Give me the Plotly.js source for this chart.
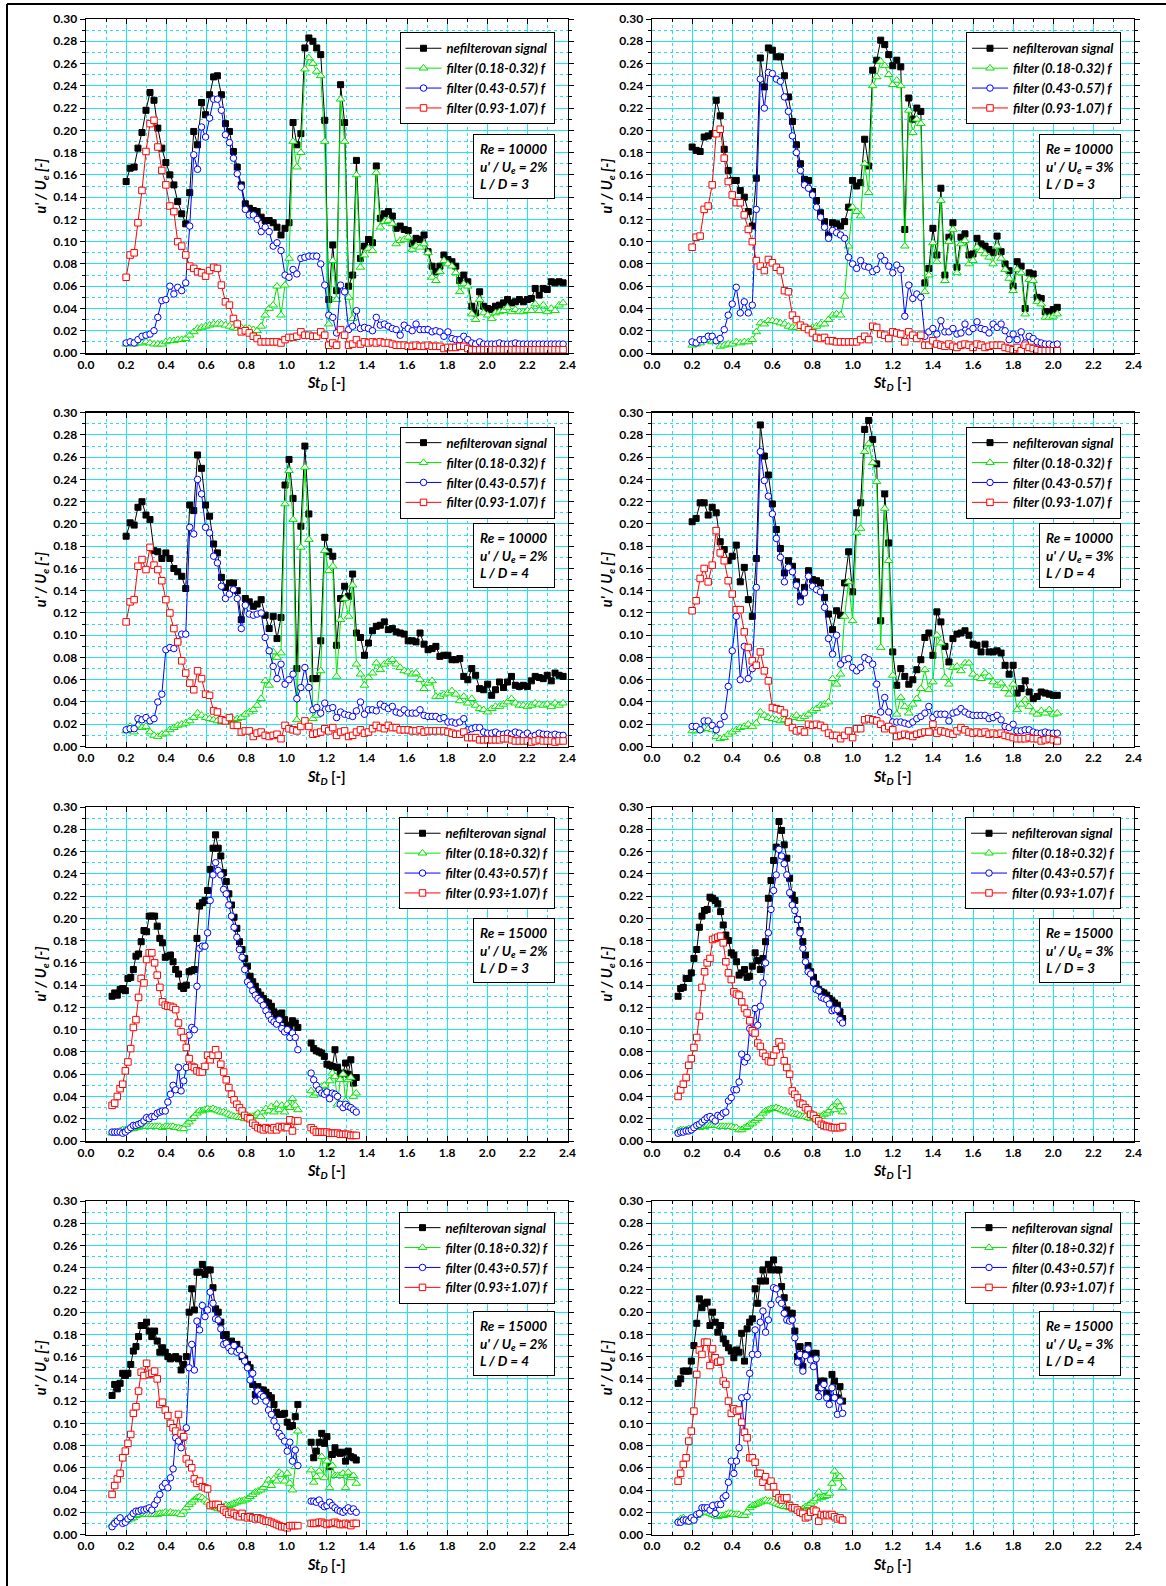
<!DOCTYPE html>
<html><head><meta charset="utf-8">
<script src="https://cdn.plot.ly/plotly-3.0.1.min.js"></script>
<style>html,body{margin:0;padding:0;background:#fff;} #chart{width:1166px;height:1586px;}</style>
</head><body><div id="chart"></div>
<script>
// ---------- x values (St_D) ----------
const stA = [0.200,0.220,0.240,0.259,0.279,0.299,0.319,0.339,0.358,0.378,
0.398,0.418,0.438,0.457,0.477,0.497,0.517,0.537,0.556,0.576,
0.596,0.616,0.636,0.655,0.675,0.695,0.715,0.735,0.754,0.774,
0.794,0.814,0.834,0.853,0.873,0.893,0.913,0.933,0.952,0.972,
0.992,1.012,1.032,1.051,1.071,1.091,1.111,1.131,1.150,1.170,
1.190,1.210,1.230,1.249,1.269,1.289,1.309,1.329,1.348,1.368,
1.388,1.408,1.428,1.447,1.467,1.487,1.507,1.527,1.546,1.566,
1.586,1.606,1.626,1.645,1.665,1.685,1.705,1.725,1.744,1.764,
1.784,1.804,1.824,1.843,1.863,1.883,1.903,1.923,1.942,1.962,
1.982,2.002,2.022,2.041,2.061,2.081,2.101,2.121,2.140,2.160,
2.180,2.200,2.220,2.239,2.259,2.279,2.299,2.319,2.338,2.358,
2.378];
const stB = [0.20,0.22,0.24,0.26,0.28,0.30,0.32,0.34,0.36,0.38,
0.40,0.42,0.44,0.46,0.48,0.50,0.52,0.54,0.56,0.58,
0.60,0.62,0.64,0.66,0.68,0.70,0.72,0.74,0.76,0.78,
0.80,0.82,0.84,0.86,0.88,0.90,0.92,0.94,0.96,0.98,
1.00,1.02,1.04,1.06,1.08,1.10,1.12,1.14,1.16,1.18,
1.20,1.22,1.24,1.26,1.28,1.30,1.32,1.34,1.36,1.38,
1.40,1.42,1.44,1.46,1.48,1.50,1.52,1.54,1.56,1.58,
1.60,1.62,1.64,1.66,1.68,1.70,1.72,1.74,1.76,1.78,
1.80,1.82,1.84,1.86,1.88,1.90,1.92,1.94,1.96,1.98,
2.00,2.02];
const stC = [0.130,0.143,0.156,0.170,0.183,0.196,0.209,0.223,0.236,0.249,
0.262,0.275,0.289,0.302,0.315,0.328,0.342,0.355,0.368,0.381,
0.395,0.408,0.421,0.434,0.447,0.461,0.474,0.487,0.500,0.514,
0.527,0.540,0.553,0.566,0.580,0.593,0.606,0.619,0.633,0.646,
0.659,0.672,0.686,0.699,0.712,0.725,0.738,0.752,0.765,0.778,
0.791,0.805,0.818,0.831,0.844,0.857,0.871,0.884,0.897,0.910,
0.924,0.937,0.950,0.963,0.976,0.990,1.003,1.016,1.029,1.043,
1.056,1.069,1.082,1.096,1.109,1.122,1.135,1.148,1.162,1.175,
1.188,1.201,1.214,1.228,1.241,1.254,1.267,1.281,1.294,1.307,
1.320,1.333,1.347];
const stD = [0.130,0.143,0.156,0.170,0.183,0.196,0.209,0.223,0.236,0.249,
0.262,0.275,0.289,0.302,0.315,0.328,0.342,0.355,0.368,0.381,
0.395,0.408,0.421,0.434,0.447,0.461,0.474,0.487,0.500,0.514,
0.527,0.540,0.553,0.566,0.580,0.593,0.606,0.619,0.633,0.646,
0.659,0.672,0.686,0.699,0.712,0.725,0.738,0.752,0.765,0.778,
0.791,0.805,0.818,0.831,0.844,0.857,0.871,0.884,0.897,0.910,
0.924,0.937,0.950];

// ---------- Panel 1: Re=10000, 2%, L/D=3 ----------
const p1Raw = [0.154,0.166,0.167,0.184,0.198,0.218,0.234,0.227,0.202,0.184,
0.171,0.160,0.151,0.136,0.125,0.116,0.144,0.199,0.187,0.225,
0.214,0.232,0.248,0.249,0.232,0.206,0.199,0.181,0.167,0.151,
0.134,0.130,0.128,0.127,0.122,0.119,0.119,0.117,0.113,0.106,
0.112,0.117,0.207,0.187,0.197,0.274,0.283,0.280,0.274,0.268,
0.209,0.048,0.097,0.056,0.241,0.207,0.060,0.070,0.173,0.085,
0.096,0.102,0.099,0.168,0.121,0.125,0.127,0.123,0.112,0.114,
0.111,0.110,0.098,0.103,0.102,0.106,0.091,0.078,0.073,0.078,
0.088,0.084,0.082,0.078,0.065,0.070,0.064,0.042,0.036,0.055,
0.042,0.040,0.039,0.042,0.043,0.045,0.048,0.045,0.046,0.048,
0.046,0.048,0.049,0.058,0.052,0.058,0.057,0.064,0.063,0.064,
0.063];
const p1F1 = [0.008,0.010,0.008,0.009,0.009,0.010,0.009,0.008,0.008,0.008,
0.010,0.011,0.011,0.012,0.012,0.013,0.016,0.019,0.022,0.023,
0.024,0.025,0.026,0.026,0.026,0.025,0.024,0.023,0.022,0.023,
0.022,0.022,0.021,0.020,0.024,0.034,0.040,0.043,0.060,0.034,
0.061,0.085,0.190,0.167,0.180,0.255,0.265,0.260,0.253,0.249,
0.190,0.026,0.083,0.048,0.228,0.190,0.050,0.031,0.160,0.077,
0.088,0.094,0.092,0.162,0.113,0.118,0.119,0.116,0.098,0.101,
0.102,0.104,0.093,0.096,0.095,0.098,0.090,0.068,0.065,0.073,
0.083,0.080,0.078,0.072,0.055,0.062,0.060,0.035,0.030,0.048,
0.036,0.034,0.031,0.036,0.037,0.038,0.041,0.037,0.039,0.037,
0.037,0.038,0.038,0.044,0.038,0.043,0.037,0.040,0.038,0.043,
0.045];
const p1F2 = [0.009,0.010,0.009,0.012,0.015,0.016,0.017,0.020,0.032,0.047,
0.048,0.060,0.053,0.059,0.056,0.063,0.114,0.178,0.165,0.203,
0.194,0.211,0.228,0.228,0.218,0.196,0.189,0.175,0.161,0.149,
0.129,0.124,0.124,0.120,0.109,0.113,0.109,0.096,0.099,0.092,
0.070,0.068,0.075,0.071,0.085,0.086,0.087,0.087,0.087,0.080,
0.061,0.034,0.032,0.018,0.061,0.055,0.021,0.024,0.038,0.022,
0.023,0.022,0.020,0.032,0.025,0.026,0.024,0.022,0.021,0.016,
0.025,0.022,0.020,0.026,0.021,0.021,0.021,0.019,0.020,0.019,
0.015,0.019,0.013,0.012,0.012,0.015,0.012,0.009,0.008,0.010,
0.008,0.008,0.008,0.008,0.009,0.008,0.008,0.008,0.009,0.008,
0.008,0.008,0.008,0.008,0.008,0.008,0.008,0.008,0.008,0.008,
0.008];
const p1F3 = [0.068,0.088,0.090,0.117,0.146,0.181,0.206,0.209,0.185,0.164,
0.151,0.132,0.127,0.100,0.096,0.088,0.078,0.076,0.073,0.072,
0.069,0.074,0.077,0.076,0.061,0.046,0.043,0.031,0.026,0.019,
0.020,0.018,0.015,0.013,0.010,0.010,0.010,0.010,0.010,0.009,
0.012,0.014,0.014,0.015,0.019,0.016,0.016,0.015,0.015,0.019,
0.016,0.007,0.009,0.007,0.021,0.016,0.007,0.008,0.012,0.008,
0.010,0.009,0.010,0.009,0.010,0.009,0.009,0.008,0.007,0.007,
0.007,0.006,0.006,0.007,0.006,0.006,0.007,0.006,0.006,0.006,
0.004,0.005,0.005,0.005,0.006,0.006,0.004,0.003,0.003,0.003,
0.003,0.003,0.003,0.003,0.003,0.003,0.003,0.003,0.003,0.003,
0.003,0.003,0.003,0.003,0.003,0.003,0.003,0.003,0.003,0.003,
0.003];

// ---------- Panel 2: Re=10000, 3%, L/D=3 ----------
const p2Raw = [0.185,0.182,0.181,0.194,0.195,0.197,0.227,0.213,0.183,0.164,
0.155,0.155,0.146,0.140,0.127,0.114,0.157,0.265,0.239,0.274,
0.272,0.266,0.266,0.249,0.230,0.208,0.187,0.170,0.156,0.155,
0.145,0.137,0.126,0.118,0.106,0.117,0.116,0.114,0.118,0.131,
0.155,0.150,0.153,0.192,0.168,0.254,0.263,0.281,0.277,0.268,
0.258,0.263,0.257,0.111,0.229,0.210,0.220,0.217,0.063,0.076,
0.112,0.088,0.148,0.070,0.104,0.117,0.077,0.104,0.107,0.088,
0.089,0.103,0.098,0.096,0.093,0.090,0.105,0.091,0.080,0.074,
0.060,0.082,0.078,0.040,0.072,0.071,0.050,0.049,0.037,0.037,
0.039,0.041];
const p2F1 = [0.007,0.008,0.009,0.011,0.015,0.010,0.011,0.006,0.007,0.008,
0.008,0.010,0.009,0.010,0.010,0.012,0.019,0.027,0.026,0.029,
0.029,0.028,0.027,0.026,0.024,0.023,0.023,0.022,0.022,0.022,
0.023,0.024,0.026,0.026,0.030,0.034,0.035,0.034,0.051,0.096,
0.131,0.127,0.123,0.170,0.144,0.240,0.248,0.262,0.258,0.250,
0.241,0.245,0.240,0.096,0.218,0.198,0.210,0.206,0.055,0.070,
0.099,0.082,0.137,0.065,0.100,0.111,0.072,0.098,0.101,0.080,
0.083,0.095,0.092,0.089,0.086,0.080,0.096,0.085,0.075,0.067,
0.056,0.075,0.072,0.035,0.066,0.065,0.046,0.044,0.032,0.032,
0.033,0.035];
const p2F2 = [0.010,0.009,0.012,0.012,0.015,0.015,0.011,0.013,0.021,0.034,
0.044,0.059,0.036,0.046,0.036,0.043,0.129,0.246,0.220,0.252,
0.251,0.246,0.244,0.230,0.217,0.195,0.180,0.164,0.151,0.148,
0.142,0.131,0.122,0.113,0.103,0.110,0.108,0.106,0.103,0.086,
0.080,0.076,0.083,0.078,0.077,0.073,0.075,0.087,0.083,0.078,
0.072,0.079,0.075,0.033,0.061,0.049,0.053,0.050,0.015,0.019,
0.022,0.017,0.029,0.019,0.019,0.022,0.017,0.018,0.026,0.019,
0.022,0.028,0.022,0.021,0.018,0.026,0.023,0.026,0.020,0.012,
0.017,0.012,0.019,0.009,0.015,0.013,0.010,0.009,0.008,0.008,
0.007,0.008];
const p2F3 = [0.095,0.104,0.105,0.129,0.132,0.151,0.197,0.201,0.175,0.154,
0.142,0.135,0.135,0.124,0.111,0.100,0.083,0.078,0.074,0.084,
0.081,0.077,0.074,0.056,0.055,0.034,0.030,0.025,0.023,0.021,
0.018,0.014,0.013,0.014,0.011,0.011,0.010,0.010,0.010,0.010,
0.010,0.010,0.012,0.015,0.012,0.024,0.023,0.017,0.016,0.013,
0.019,0.018,0.017,0.010,0.019,0.016,0.013,0.016,0.007,0.007,
0.011,0.008,0.007,0.006,0.008,0.006,0.005,0.007,0.008,0.007,
0.005,0.008,0.007,0.005,0.006,0.007,0.007,0.007,0.005,0.004,
0.003,0.005,0.002,0.007,0.005,0.004,0.003,0.002,0.002,0.002,
0.002,0.002];

// ---------- Panel 3: Re=10000, 2%, L/D=4 ----------
const p3Raw = [0.189,0.201,0.199,0.215,0.220,0.208,0.204,0.176,0.175,0.169,
0.174,0.169,0.160,0.157,0.153,0.142,0.217,0.212,0.262,0.250,
0.217,0.207,0.182,0.174,0.152,0.143,0.147,0.147,0.140,0.114,
0.133,0.130,0.126,0.128,0.132,0.118,0.106,0.117,0.097,0.116,
0.235,0.258,0.223,0.070,0.198,0.270,0.209,0.061,0.061,0.095,
0.188,0.175,0.171,0.091,0.133,0.144,0.135,0.155,0.102,0.098,
0.082,0.093,0.104,0.108,0.109,0.112,0.105,0.106,0.103,0.102,
0.101,0.095,0.095,0.094,0.102,0.092,0.087,0.088,0.090,0.081,
0.082,0.082,0.078,0.078,0.079,0.063,0.060,0.070,0.064,0.052,
0.051,0.056,0.046,0.051,0.058,0.053,0.058,0.063,0.055,0.054,
0.055,0.054,0.059,0.063,0.062,0.061,0.064,0.059,0.066,0.064,
0.063];
const p3F1 = [0.014,0.018,0.013,0.019,0.017,0.018,0.013,0.010,0.009,0.011,
0.012,0.015,0.017,0.019,0.020,0.021,0.023,0.026,0.030,0.028,
0.026,0.025,0.024,0.023,0.022,0.022,0.023,0.024,0.025,0.026,
0.029,0.031,0.033,0.037,0.043,0.059,0.055,0.085,0.080,0.084,
0.218,0.248,0.204,0.024,0.179,0.251,0.186,0.025,0.028,0.068,
0.176,0.158,0.162,0.063,0.114,0.133,0.117,0.145,0.074,0.065,
0.055,0.062,0.066,0.075,0.069,0.074,0.076,0.078,0.074,0.071,
0.068,0.067,0.065,0.066,0.060,0.052,0.057,0.059,0.045,0.045,
0.047,0.048,0.050,0.047,0.041,0.045,0.039,0.043,0.037,0.034,
0.033,0.031,0.034,0.036,0.036,0.038,0.040,0.043,0.039,0.037,
0.037,0.036,0.037,0.039,0.038,0.037,0.038,0.036,0.039,0.037,
0.039];
const p3F2 = [0.015,0.016,0.016,0.025,0.024,0.026,0.023,0.025,0.040,0.047,
0.087,0.089,0.088,0.094,0.101,0.101,0.197,0.191,0.240,0.227,
0.197,0.192,0.171,0.165,0.144,0.133,0.137,0.141,0.133,0.106,
0.127,0.119,0.118,0.119,0.120,0.098,0.086,0.072,0.061,0.074,
0.056,0.060,0.065,0.043,0.053,0.071,0.053,0.033,0.035,0.030,
0.039,0.034,0.035,0.026,0.031,0.029,0.028,0.027,0.032,0.040,
0.029,0.033,0.033,0.032,0.038,0.036,0.034,0.036,0.031,0.030,
0.033,0.030,0.030,0.030,0.033,0.028,0.027,0.027,0.027,0.025,
0.026,0.022,0.022,0.021,0.022,0.025,0.015,0.016,0.017,0.017,
0.013,0.012,0.012,0.013,0.011,0.011,0.012,0.011,0.013,0.012,
0.010,0.012,0.009,0.010,0.012,0.011,0.011,0.010,0.011,0.010,
0.010];
const p3F3 = [0.112,0.130,0.132,0.162,0.168,0.159,0.179,0.163,0.159,0.149,
0.132,0.120,0.106,0.094,0.077,0.066,0.057,0.051,0.068,0.061,
0.047,0.046,0.032,0.031,0.024,0.023,0.026,0.019,0.019,0.013,
0.014,0.014,0.009,0.012,0.013,0.010,0.009,0.010,0.011,0.007,
0.019,0.016,0.015,0.014,0.018,0.023,0.018,0.011,0.012,0.013,
0.016,0.014,0.017,0.010,0.013,0.014,0.009,0.010,0.013,0.015,
0.012,0.013,0.016,0.019,0.017,0.016,0.019,0.017,0.017,0.015,
0.015,0.015,0.014,0.014,0.015,0.013,0.014,0.014,0.014,0.014,
0.014,0.013,0.012,0.011,0.011,0.013,0.008,0.008,0.008,0.006,
0.006,0.006,0.006,0.006,0.006,0.007,0.007,0.006,0.005,0.005,
0.005,0.005,0.004,0.005,0.006,0.005,0.005,0.005,0.004,0.005,
0.005];

// ---------- Panel 4: Re=10000, 3%, L/D=4 ----------
const p4Raw = [0.202,0.205,0.219,0.219,0.208,0.215,0.210,0.184,0.177,0.167,
0.171,0.181,0.148,0.161,0.132,0.117,0.169,0.289,0.261,0.244,
0.218,0.195,0.178,0.156,0.167,0.162,0.148,0.135,0.143,0.158,
0.150,0.149,0.147,0.134,0.119,0.105,0.122,0.118,0.147,0.175,
0.139,0.210,0.219,0.285,0.293,0.276,0.254,0.113,0.227,0.183,
0.085,0.055,0.070,0.063,0.056,0.060,0.069,0.078,0.098,0.102,
0.082,0.121,0.112,0.090,0.076,0.097,0.101,0.102,0.104,0.100,
0.092,0.091,0.085,0.092,0.085,0.085,0.086,0.084,0.073,0.065,
0.073,0.048,0.052,0.059,0.049,0.043,0.045,0.049,0.048,0.047,
0.046,0.046];
const p4F1 = [0.014,0.014,0.015,0.017,0.016,0.015,0.009,0.007,0.008,0.011,
0.013,0.015,0.017,0.018,0.020,0.018,0.021,0.031,0.028,0.026,
0.025,0.024,0.023,0.024,0.022,0.026,0.028,0.025,0.027,0.029,
0.032,0.034,0.037,0.038,0.040,0.061,0.056,0.065,0.117,0.148,
0.113,0.192,0.196,0.265,0.272,0.255,0.238,0.089,0.214,0.167,
0.064,0.029,0.044,0.036,0.030,0.038,0.043,0.052,0.069,0.051,
0.058,0.100,0.093,0.062,0.056,0.071,0.072,0.068,0.075,0.075,
0.065,0.062,0.061,0.066,0.063,0.058,0.055,0.057,0.052,0.047,
0.056,0.033,0.038,0.042,0.036,0.031,0.029,0.032,0.030,0.033,
0.029,0.030];
const p4F2 = [0.018,0.018,0.015,0.023,0.023,0.019,0.015,0.020,0.027,0.054,
0.086,0.117,0.060,0.090,0.061,0.070,0.143,0.265,0.239,0.225,
0.209,0.187,0.170,0.148,0.161,0.157,0.145,0.130,0.138,0.153,
0.144,0.141,0.139,0.125,0.097,0.083,0.100,0.074,0.078,0.079,
0.071,0.068,0.071,0.080,0.078,0.074,0.056,0.031,0.044,0.031,
0.022,0.022,0.022,0.021,0.020,0.022,0.025,0.027,0.030,0.036,
0.026,0.029,0.029,0.029,0.023,0.030,0.031,0.034,0.031,0.029,
0.028,0.028,0.028,0.028,0.025,0.026,0.028,0.024,0.018,0.017,
0.020,0.014,0.014,0.015,0.015,0.013,0.012,0.012,0.013,0.012,
0.012,0.012];
const p4F3 = [0.122,0.131,0.151,0.160,0.148,0.163,0.194,0.174,0.167,0.149,
0.137,0.123,0.123,0.103,0.089,0.077,0.073,0.085,0.068,0.059,
0.035,0.034,0.033,0.030,0.022,0.017,0.014,0.015,0.013,0.020,
0.019,0.020,0.019,0.017,0.012,0.010,0.010,0.007,0.010,0.014,
0.008,0.016,0.016,0.024,0.025,0.024,0.023,0.020,0.016,0.018,
0.015,0.009,0.010,0.011,0.010,0.009,0.011,0.012,0.013,0.013,
0.020,0.012,0.014,0.013,0.012,0.011,0.014,0.017,0.015,0.013,
0.012,0.013,0.012,0.013,0.011,0.012,0.011,0.012,0.010,0.009,
0.008,0.007,0.007,0.007,0.008,0.007,0.007,0.005,0.006,0.007,
0.006,0.005];

// ---------- Panel 5: Re=15000, 2%, L/D=3 (null = no data) ----------
const p5Raw = [0.130,0.133,0.131,0.136,0.137,0.135,0.146,0.147,0.154,0.166,
0.168,0.179,0.189,0.188,0.202,0.202,0.202,0.193,0.182,0.178,
0.165,0.166,0.167,0.161,0.154,0.150,0.139,0.137,0.140,0.152,
0.153,0.154,0.182,0.211,0.214,0.216,0.225,0.244,0.263,0.275,
0.263,0.256,0.241,0.233,0.222,0.212,0.201,0.191,0.179,0.172,
0.164,0.157,0.148,0.143,0.139,0.134,0.131,0.128,0.125,0.124,
0.121,0.116,0.112,0.114,0.115,0.109,0.104,0.103,0.108,0.106,
0.102,null,null,null,null,0.088,0.083,0.081,0.080,0.079,
0.076,0.069,0.068,0.067,0.082,0.066,0.060,0.061,0.070,0.060,
0.073,0.052,0.057];
const p5F1 = [0.007,0.008,0.008,0.009,0.010,0.010,0.010,0.011,0.011,0.012,
0.013,0.013,0.014,0.013,0.013,0.013,0.013,0.013,0.013,0.012,
0.013,0.013,0.013,0.013,0.012,0.012,0.011,0.011,0.015,0.017,
0.020,0.022,0.025,0.027,0.027,0.028,0.029,0.028,0.029,0.028,
0.027,0.026,0.026,0.025,0.024,0.023,0.022,0.022,0.021,0.021,
0.020,0.021,0.022,0.022,0.023,0.025,0.022,0.026,0.029,0.027,
0.031,0.026,0.033,0.028,0.032,0.026,0.033,0.030,0.038,0.032,
0.028,null,null,null,null,0.045,0.041,0.043,0.047,0.049,
0.050,0.045,0.054,0.061,0.058,0.033,0.055,0.060,0.036,0.055,
0.057,0.040,0.043];
const p5F2 = [0.008,0.008,0.008,0.008,0.007,0.008,0.010,0.012,0.014,0.014,
0.015,0.016,0.018,0.021,0.020,0.022,0.022,0.025,0.026,0.027,
0.027,0.035,0.042,0.050,0.046,0.066,0.045,0.054,0.066,0.095,
0.102,0.100,0.139,0.173,0.175,0.175,0.187,0.216,0.239,0.250,
0.243,0.239,0.226,0.222,0.212,0.202,0.192,0.183,0.172,0.165,
0.154,0.143,0.140,0.135,0.131,0.128,0.126,0.122,0.117,0.113,
0.109,0.107,0.105,0.109,0.101,0.098,0.100,0.093,0.097,0.093,
0.082,null,null,null,null,0.061,0.055,0.050,0.046,0.043,
0.042,0.044,0.038,0.043,0.042,0.040,0.033,0.030,0.033,0.031,
0.030,0.028,0.026];
const p5F3 = [0.032,0.034,0.040,0.047,0.051,0.063,0.071,0.083,0.102,0.109,
0.129,0.146,0.142,0.163,0.169,0.169,0.160,0.149,0.138,0.125,
0.122,0.121,0.121,0.120,0.118,0.106,0.098,0.093,0.084,0.074,
0.067,0.066,0.063,0.062,0.062,0.067,0.077,0.073,0.077,0.082,
0.077,0.069,0.062,0.055,0.048,0.042,0.037,0.033,0.030,0.027,
0.023,0.021,0.020,0.016,0.014,0.012,0.011,0.010,0.012,0.011,
0.010,0.012,0.010,0.013,0.012,0.013,0.012,0.019,0.009,0.018,
0.018,null,null,null,null,0.012,0.010,0.008,0.008,0.008,
0.008,0.008,0.007,0.007,0.007,0.007,0.006,0.006,0.006,0.006,
0.005,0.005,0.005];

// ---------- Panel 6: Re=15000, 3%, L/D=3 ----------
const p6Raw = [0.130,0.137,0.138,0.146,0.146,0.151,0.164,0.172,0.192,0.202,
0.207,0.208,0.219,0.218,0.216,0.213,0.206,0.194,0.185,0.180,
0.169,0.167,0.161,0.149,0.151,0.154,0.147,0.148,0.157,0.169,
0.162,0.154,0.164,0.179,0.218,0.234,0.252,0.264,0.287,0.279,
0.266,0.254,0.236,0.221,0.216,0.199,0.189,0.179,0.167,0.157,
0.152,0.147,0.141,0.136,0.134,0.133,0.131,0.128,0.126,0.124,
0.122,0.116,0.110];
const p6F1 = [0.009,0.010,0.010,0.010,0.011,0.011,0.012,0.012,0.012,0.013,
0.013,0.014,0.014,0.014,0.014,0.014,0.013,0.013,0.013,0.013,
0.013,0.012,0.012,0.010,0.010,0.012,0.013,0.015,0.016,0.018,
0.020,0.022,0.025,0.027,0.028,0.029,0.029,0.030,0.029,0.028,
0.027,0.026,0.026,0.025,0.024,0.024,0.023,0.022,0.022,0.021,
0.020,0.021,0.021,0.022,0.022,0.024,0.025,0.027,0.030,0.028,
0.035,0.031,0.026];
const p6F2 = [0.007,0.008,0.008,0.009,0.009,0.010,0.012,0.014,0.015,0.017,
0.019,0.021,0.022,0.020,0.018,0.023,0.022,0.025,0.026,0.036,
0.039,0.046,0.046,0.053,0.078,0.071,0.075,0.101,0.097,0.119,
0.104,0.121,0.142,0.160,0.187,0.208,0.225,0.239,0.262,0.256,
0.249,0.239,0.223,0.212,0.207,0.199,0.187,0.173,0.161,0.152,
0.150,0.142,0.136,0.135,0.129,0.128,0.127,0.123,0.117,0.118,
0.118,0.109,0.106];
const p6F3 = [0.040,0.046,0.051,0.057,0.068,0.074,0.084,0.093,0.112,0.138,
0.152,0.160,0.164,0.181,0.182,0.183,0.184,0.178,0.161,0.151,
0.145,0.134,0.132,0.131,0.125,0.119,0.115,0.108,0.099,0.097,
0.088,0.085,0.079,0.076,0.072,0.071,0.077,0.082,0.089,0.085,
0.072,0.066,0.060,0.045,0.042,0.039,0.034,0.033,0.030,0.028,
0.024,0.023,0.020,0.018,0.015,0.014,0.013,0.013,0.012,0.012,
0.012,0.012,0.013];

// ---------- Panel 7: Re=15000, 2%, L/D=4 ----------
const p7Raw = [0.125,0.135,0.131,0.136,0.145,0.143,0.145,0.153,0.165,0.169,
0.178,0.188,0.188,0.191,0.183,0.178,0.183,0.174,0.164,0.168,
0.164,0.160,0.158,0.159,0.160,0.158,0.148,0.153,0.160,0.200,
0.221,0.202,0.236,0.236,0.243,0.234,0.238,0.238,0.222,0.203,
0.200,0.191,0.179,0.180,0.173,0.174,0.170,0.171,0.166,0.160,
0.158,0.153,0.150,0.135,0.126,0.133,0.130,0.130,0.128,0.125,
0.123,0.117,0.110,0.108,0.108,0.109,0.101,0.097,0.098,0.106,
0.117,null,null,null,null,0.083,0.069,0.075,0.083,0.091,
0.082,0.088,0.061,0.072,0.078,0.074,0.073,0.074,0.066,0.075,
0.070,0.069,0.067];
const p7F1 = [0.009,0.012,0.013,0.013,0.012,0.012,0.013,0.014,0.015,0.017,
0.018,0.020,0.019,0.018,0.018,0.018,0.018,0.018,0.019,0.019,
0.020,0.019,0.020,0.019,0.019,0.019,0.018,0.021,0.024,0.027,
0.029,0.031,0.033,0.034,0.033,0.031,0.029,0.027,0.025,0.024,
0.023,0.024,0.025,0.026,0.026,0.027,0.028,0.029,0.030,0.030,
0.031,0.032,0.034,0.036,0.038,0.039,0.040,0.042,0.045,0.049,
0.044,0.050,0.048,0.056,0.054,0.048,0.055,0.046,0.040,0.061,
0.093,null,null,null,null,0.058,0.047,0.052,0.057,0.070,
0.051,0.066,0.042,0.062,0.053,0.053,0.053,0.055,0.042,0.056,
0.051,0.053,0.046];
const p7F2 = [0.007,0.010,0.012,0.015,0.010,0.011,0.014,0.016,0.019,0.021,
0.021,0.022,0.022,0.023,0.024,0.022,0.027,0.031,0.036,0.043,
0.046,0.042,0.051,0.059,0.087,0.084,0.078,0.087,0.096,0.150,
0.171,0.148,0.192,0.184,0.206,0.196,0.202,0.218,0.208,0.194,
0.193,0.185,0.171,0.172,0.168,0.165,0.170,0.164,0.166,0.161,
0.156,0.150,0.139,0.145,0.120,0.129,0.126,0.124,0.120,0.112,
0.108,0.102,0.097,0.091,0.088,0.084,0.075,0.083,0.066,0.076,
0.062,null,null,null,null,0.030,0.030,0.029,0.031,0.027,
0.025,0.026,0.029,0.026,0.024,0.022,0.021,0.020,0.022,0.024,
0.021,0.023,0.020];
const p7F3 = [0.036,0.044,0.050,0.055,0.069,0.075,0.082,0.090,0.109,0.115,
0.129,0.146,0.143,0.154,0.144,0.145,0.147,0.140,0.117,0.119,
0.112,0.107,0.100,0.096,0.093,0.108,0.091,0.088,0.068,0.064,
0.060,0.050,0.046,0.048,0.043,0.042,0.041,0.026,0.027,0.027,
0.027,0.024,0.022,0.020,0.018,0.020,0.019,0.017,0.016,0.019,
0.016,0.015,0.016,0.015,0.014,0.015,0.014,0.013,0.012,0.012,
0.011,0.010,0.009,0.008,0.007,0.007,0.006,0.008,0.008,0.008,
0.008,null,null,null,null,0.010,0.010,0.010,0.011,0.011,
0.010,0.009,0.010,0.010,0.011,0.010,0.009,0.009,0.010,0.009,
0.008,0.010,0.010];

// ---------- Panel 8: Re=15000, 3%, L/D=4 ----------
const p8Raw = [0.136,0.140,0.147,0.147,0.147,0.156,0.170,0.190,0.212,0.204,
0.208,0.209,0.188,0.200,0.191,0.182,0.188,0.176,0.172,0.168,
0.165,0.159,0.166,0.164,0.181,0.156,0.185,0.191,0.194,0.221,
0.208,0.228,0.238,0.228,0.243,0.238,0.247,0.238,0.238,0.223,
0.213,0.202,0.199,0.199,0.183,0.160,0.169,0.151,0.163,0.170,
0.162,0.163,0.163,0.132,0.138,0.138,0.127,0.123,0.144,0.138,
0.123,0.133,0.120];
const p8F1 = [0.012,0.014,0.015,0.013,0.011,0.013,0.015,0.017,0.019,0.020,
0.020,0.020,0.019,0.018,0.017,0.016,0.017,0.017,0.018,0.019,
0.019,0.018,0.018,0.018,0.017,0.017,0.020,0.024,0.026,0.027,
0.028,0.029,0.030,0.031,0.030,0.030,0.029,0.028,0.027,0.026,
0.025,0.025,0.024,0.024,0.023,0.022,0.022,0.023,0.025,0.026,
0.028,0.030,0.032,0.038,0.033,0.034,0.035,0.037,0.046,0.057,
0.050,0.052,0.042];
const p8F2 = [0.011,0.011,0.013,0.013,0.012,0.015,0.013,0.018,0.019,0.024,
0.024,0.024,0.022,0.026,0.019,0.027,0.027,0.033,0.035,0.047,
0.066,0.055,0.066,0.078,0.123,0.092,0.124,0.145,0.162,0.184,
0.162,0.191,0.201,0.182,0.193,0.207,0.222,0.221,0.211,0.208,
0.199,0.193,0.192,0.193,0.177,0.155,0.162,0.147,0.161,0.167,
0.157,0.151,0.158,0.124,0.132,0.135,0.123,0.117,0.132,0.123,
0.108,0.120,0.109];
const p8F3 = [0.048,0.055,0.063,0.069,0.084,0.093,0.111,0.144,0.166,0.162,
0.173,0.173,0.152,0.167,0.159,0.155,0.156,0.138,0.135,0.120,
0.109,0.113,0.111,0.112,0.101,0.092,0.087,0.069,0.069,0.065,
0.055,0.055,0.047,0.052,0.043,0.048,0.043,0.037,0.033,0.031,
0.033,0.033,0.026,0.024,0.024,0.022,0.020,0.019,0.015,0.016,
0.020,0.022,0.021,0.012,0.018,0.017,0.018,0.017,0.018,0.016,
0.014,0.015,0.013];

// ---------- labels ----------
const namesDash = ['nefilterovan signal','filter (0.18-0.32) f','filter (0.43-0.57) f','filter (0.93-1.07) f'];
const namesDiv  = ['nefilterovan signal','filter (0.18÷0.32) f','filter (0.43÷0.57) f','filter (0.93÷1.07) f'];
const reValues = [10000,10000,10000,10000,15000,15000,15000,15000];
const turbValues = ['2%','3%','2%','3%','2%','3%','2%','3%'];
const ldValues = [3,3,4,4,3,3,4,4];

// ---------- build ----------
const panels = [
  {x: stA, ys: [p1Raw,p1F1,p1F2,p1F3], names: namesDash},
  {x: stB, ys: [p2Raw,p2F1,p2F2,p2F3], names: namesDash},
  {x: stA, ys: [p3Raw,p3F1,p3F2,p3F3], names: namesDash},
  {x: stB, ys: [p4Raw,p4F1,p4F2,p4F3], names: namesDash},
  {x: stC, ys: [p5Raw,p5F1,p5F2,p5F3], names: namesDiv},
  {x: stD, ys: [p6Raw,p6F1,p6F2,p6F3], names: namesDiv},
  {x: stC, ys: [p7Raw,p7F1,p7F2,p7F3], names: namesDiv},
  {x: stD, ys: [p8Raw,p8F1,p8F2,p8F3], names: namesDiv}
];

const FONT = 'Lato, "Open Sans", "DejaVu Sans", sans-serif';
const W = 1166, H = 1586;
const colLeft = [86, 652], colRight = [567.5, 1133.5];
const rowTop = [19, 412.7, 807, 1201], rowBottom = [353, 746.5, 1141, 1534.5];
const legendRight = [554.5, 1121];
const legendTop = [32.3, 426.7, 817.3, 1211.7];
const infoTop = [134, 523, 918, 1311];
const GRID = '#22E4F0';
const seriesStyle = [
  {color:'#000000', symbol:'square', fill:'#000000', size:6},
  {color:'#00E400', symbol:'triangle-up', fill:'#ffffff', size:7.5},
  {color:'#0000FF', symbol:'circle', fill:'#ffffff', size:6.5},
  {color:'#FF0000', symbol:'square', fill:'#ffffff', size:6.5}
];

const traces = [];
const layout = {
  width: W, height: H,
  margin: {l:0, r:0, t:0, b:0, pad:0},
  paper_bgcolor: '#ffffff', plot_bgcolor: '#ffffff',
  font: {family: FONT, color: '#000000'},
  showlegend: true,
  annotations: [],
  shapes: [
    {type:'line', xref:'paper', yref:'paper', x0:7/W, x1:1, y0:1-4/H, y1:1-4/H, line:{color:'#000', width:2}},
    {type:'line', xref:'paper', yref:'paper', x0:7/W, x1:7/W, y0:0, y1:1-4/H, line:{color:'#000', width:2}}
  ]
};

panels.forEach((p, k) => {
  const row = Math.floor(k/2), col = k % 2;
  const suf = k === 0 ? '' : String(k+1);
  const legKey = k === 0 ? 'legend' : 'legend' + (k+1);
  p.ys.forEach((y, s) => {
    const st = seriesStyle[s];
    traces.push({
      type: 'scatter', mode: 'lines+markers',
      x: p.x, y: y,
      xaxis: 'x' + suf, yaxis: 'y' + suf,
      name: '<b><i>' + p.names[s] + '</i></b>',
      legend: legKey,
      connectgaps: false,
      hoverinfo: 'skip',
      line: {color: st.color, width: 1},
      marker: {symbol: st.symbol, size: st.size, color: st.fill, line: {color: st.color, width: 1}}
    });
  });
  layout['xaxis' + suf] = {
    domain: [colLeft[col]/W, colRight[col]/W], anchor: 'y' + suf,
    range: [0, 2.4], tick0: 0, dtick: 0.2, tickformat: '.1f',
    ticks: 'inside', ticklen: 5, tickwidth: 1, tickcolor: '#000',
    mirror: 'allticks', showline: true, linecolor: '#000', linewidth: 1.5,
    showgrid: true, gridcolor: GRID, gridwidth: 1, zeroline: false,
    minor: {dtick: 0.1, ticks: 'inside', ticklen: 3, tickcolor: '#000', showgrid: true, gridcolor: GRID, griddash: 'dot', gridwidth: 1},
    tickfont: {family: FONT, size: 12, weight: 'bold', color: '#000'},
    title: {text: '<b><i>St<sub>D</sub></i> [-]</b>', font: {family: FONT, size: 14.5, color: '#000'}, standoff: 7}
  };
  layout['yaxis' + suf] = {
    domain: [1 - rowBottom[row]/H, 1 - rowTop[row]/H], anchor: 'x' + suf,
    range: [0, 0.30], tick0: 0, dtick: 0.02, tickformat: '.2f',
    ticks: 'outside', ticklen: 5, tickwidth: 1, tickcolor: '#000',
    mirror: 'allticks', showline: true, linecolor: '#000', linewidth: 1.5,
    showgrid: true, gridcolor: GRID, gridwidth: 1, zeroline: false,
    minor: {dtick: 0.01, ticks: 'outside', ticklen: 3, tickcolor: '#000', showgrid: true, gridcolor: GRID, griddash: 'dot', gridwidth: 1},
    tickfont: {family: FONT, size: 12, weight: 'bold', color: '#000'},
    title: {text: "<b><i>u' / U<sub>e</sub> [-]</i></b>", font: {family: FONT, size: 14.5, color: '#000'}, standoff: 3}
  };
  layout[legKey] = {
    x: legendRight[col]/W, y: 1 - legendTop[row]/H, xref: 'paper', yref: 'paper',
    xanchor: 'right', yanchor: 'top',
    bgcolor: '#ffffff', bordercolor: '#000000', borderwidth: 1,
    font: {family: FONT, size: 13, color: '#000'},
    itemwidth: 36, traceorder: 'normal'
  };
  layout.annotations.push({
    xref: 'paper', yref: 'paper',
    x: legendRight[col]/W, y: 1 - infoTop[row]/H, xanchor: 'right', yanchor: 'top',
    text: '<b><i>Re = ' + reValues[k] + "<br>u' / U<sub>e</sub> = " + turbValues[k] + '<br>L / D = ' + ldValues[k] + '</i></b>',
    showarrow: false, align: 'left',
    font: {family: FONT, size: 13.5, color: '#000'},
    bgcolor: '#ffffff', bordercolor: '#000000', borderwidth: 1, borderpad: 6
  });
});

Plotly.newPlot('chart', traces, layout, {staticPlot: true});
</script>
</body></html>
